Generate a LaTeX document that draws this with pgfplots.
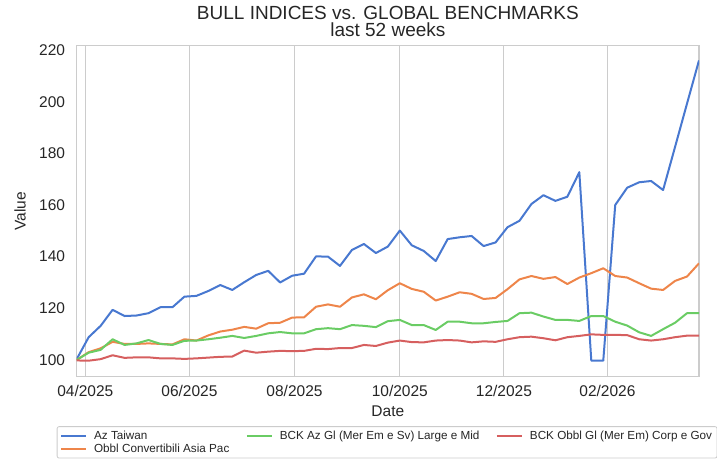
\documentclass[border=0pt]{standalone}
\usepackage{pgfplots}
\pgfplotsset{compat=1.18}
\usepackage{pgfplotstable}
\usepackage{fontspec}
\setmainfont{Liberation Sans}

\definecolor{cblue}{HTML}{4878D0}
\definecolor{corange}{HTML}{EE854A}
\definecolor{cgreen}{HTML}{6ACC64}
\definecolor{cred}{HTML}{D65F5F}
\definecolor{txt}{HTML}{262626}
\definecolor{framegray}{HTML}{CCCCCC}

% weekly index values, week 0 = end of March 2025
\pgfplotstableread{
w  taiwan conv  azgl  obbl
0  100.3  100.0 100.0 99.8
1  108.8  103.0 102.8 99.7
2  113.2  104.5 103.9 100.3
3  119.4  107.0 108.0 101.8
4  117.0  106.2 105.8 100.8
5  117.2  106.2 106.4 101.0
6  118.1  106.4 107.7 101.0
7  120.4  106.2 106.2 100.6
8  120.4  106.0 105.8 100.6
9  124.5  108.0 107.4 100.4
10 124.8  107.5 107.5 100.6
11 126.7  109.5 108.0 100.9
12 129.0  111.0 108.6 101.2
13 127.1  111.7 109.3 101.3
14 130.1  112.8 108.5 103.6
15 132.9  112.1 109.3 102.8
16 134.5  114.2 110.3 103.2
17 130.0  114.4 110.8 103.5
18 132.6  116.4 110.3 103.4
19 133.4  116.5 110.3 103.5
20 140.1  120.6 111.9 104.3
21 140.0  121.5 112.3 104.2
22 136.4  120.6 111.9 104.6
23 142.6  124.2 113.5 104.6
24 144.9  125.4 113.2 105.8
25 141.4  123.5 112.7 105.4
26 143.9  127.0 115.0 106.7
27 150.1  129.7 115.5 107.5
28 144.4  127.5 113.5 106.9
29 142.2  126.4 113.5 106.8
30 138.3  123.0 111.6 107.5
31 146.8  124.5 114.8 107.7
32 147.5  126.2 114.8 107.5
33 148.0  125.6 114.2 106.8
34 144.1  123.6 114.2 107.2
35 145.5  124.0 114.7 107.0
36 151.4  127.4 115.1 108.0
37 153.9  131.2 118.1 108.8
38 160.4  132.5 118.3 109.0
39 163.8  131.4 116.8 108.4
40 161.6  132.1 115.5 107.6
41 163.2  129.4 115.5 108.8
42 172.7  131.9 115.1 109.3
43 99.7   133.6 117.0 109.9
44 99.7   135.5 117.0 109.7
45 160.0  132.5 114.8 109.7
46 166.7  131.9 113.3 109.6
47 168.8  129.7 110.7 108.0
48 169.3  127.6 109.3 107.5
49 165.8  127.1 111.9 108.0
50 182.5  130.6 114.4 108.8
51 199.3  132.3 118.1 109.4
52 216.0  137.4 118.1 109.4
}\weekly

\begin{document}
\begin{tikzpicture}
\begin{axis}[
    at={(76.7pt,84.3pt)}, anchor=south west,
    scale only axis, width=622.3pt, height=331pt,
    xmin=0, xmax=52, ymin=93.5, ymax=221.7,
    xtick={0.72,9.42,18.2,27.0,35.7,44.35},
    xticklabels={04/2025,06/2025,08/2025,10/2025,12/2025,02/2026},
    ytick={100,120,140,160,180,200,220},
    /pgf/number format/assume math mode=true,
    xmajorgrids,
    grid style={framegray, line width=1pt},
    axis line style={framegray, line width=1.2pt},
    major tick length=0pt,
    tick label style={font=\fontsize{15.5}{18}\selectfont, text=txt},
    yticklabel style={anchor=east, inner sep=0pt, xshift=-11.5pt},
    xticklabel style={anchor=north, inner sep=0pt, yshift=-8pt},
    xlabel={Date}, ylabel={Value},
    label style={font=\fontsize{15.5}{18}\selectfont, text=txt},
    xlabel style={at={(axis description cs:0.5,-0.1036)}, anchor=center},
    ylabel style={at={(axis description cs:-0.0911,0.5)}, anchor=center},
    every axis plot/.append style={line width=2pt, line join=round},
    legend columns=3,
    legend cell align=left,
    legend image code/.code={\draw[#1] (0pt,0pt) -- (25pt,0pt);},
    legend style={at={(axis description cs:-0.0321,-0.1496)}, anchor=north west,
        draw=framegray, line width=0.8pt, fill=white, rounded corners=2pt,
        font=\fontsize{11.7}{13.5}\selectfont, text=txt,
        nodes={inner ysep=1pt},
        inner xsep=3pt, inner ysep=3pt, row sep=1.5pt,
        /tikz/every odd column/.append style={column sep=5pt},
        /tikz/every even column/.append style={column sep=14.5pt}},
]
\addplot[cblue, forget plot] table[x=w, y=taiwan] {\weekly};
\addplot[corange, forget plot] table[x=w, y=conv] {\weekly};
\addplot[cgreen, forget plot] table[x=w, y=azgl] {\weekly};
\addplot[cred, forget plot] table[x=w, y=obbl] {\weekly};

\addlegendimage{cblue, line width=2pt}
\addlegendentry{Az Taiwan}
\addlegendimage{cgreen, line width=2pt}
\addlegendentry{BCK Az Gl (Mer Em e Sv) Large e Mid}
\addlegendimage{cred, line width=2pt}
\addlegendentry{BCK Obbl Gl (Mer Em) Corp e Gov}
\addlegendimage{corange, line width=2pt}
\addlegendentry{Obbl Convertibili Asia Pac}
\end{axis}
\node[anchor=base, inner sep=0pt, text=txt, font=\fontsize{19}{22}\selectfont] at (387.9pt,441.5pt) {BULL INDICES vs. GLOBAL BENCHMARKS};
\node[anchor=base, inner sep=0pt, text=txt, font=\fontsize{19}{22}\selectfont] at (387.9pt,424pt) {last 52 weeks};
\pgfresetboundingbox
\path[use as bounding box] (0pt,0pt) rectangle (717pt,461pt);
\end{tikzpicture}
\end{document}
